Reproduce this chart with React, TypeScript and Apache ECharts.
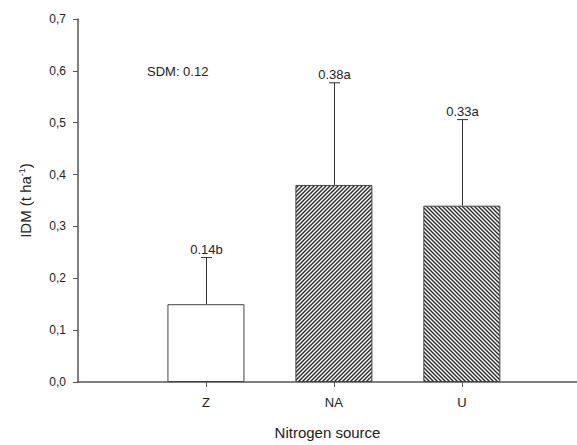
import React, { useEffect, useRef } from "react";
import * as echarts from "echarts";

const categories = ["Z", "NA", "U"];
const positions = [1, 2, 3];
const means = [0.15, 0.38, 0.34];
const upperErr = [0.24, 0.577, 0.506];
const barLabels = ["0.14b", "0.38a", "0.33a"];
const yTicks = [0, 0.1, 0.2, 0.3, 0.4, 0.5, 0.6, 0.7];
const note = "SDM: 0.12";

const FONT = "'Liberation Sans', Arial, sans-serif";
const AXIS = "#555";
const TXT = "#222";

function makeHatch(forward: boolean): HTMLCanvasElement {
  const s = 4;
  const c = document.createElement("canvas");
  c.width = s;
  c.height = s;
  const ctx = c.getContext("2d")!;
  ctx.fillStyle = "#ffffff";
  ctx.fillRect(0, 0, s, s);
  ctx.strokeStyle = "#2a2a2a";
  ctx.lineWidth = 1.4;
  for (let k = -1; k <= 1; k++) {
    ctx.beginPath();
    if (forward) {
      ctx.moveTo(k * s - 1, s + 1);
      ctx.lineTo(k * s + s + 1, -1);
    } else {
      ctx.moveTo(k * s - 1, -1);
      ctx.lineTo(k * s + s + 1, s + 1);
    }
    ctx.stroke();
  }
  return c;
}

export default function App() {
  const ref = useRef<HTMLDivElement>(null);
  useEffect(() => {
    if (!ref.current) return;
    const chart = echarts.init(ref.current, null, { renderer: "svg" });
    const fills = [
      { color: "#fff", borderColor: "#444", borderWidth: 1 },
      { color: { image: makeHatch(true), repeat: "repeat" }, borderColor: "#444", borderWidth: 1 },
      { color: { image: makeHatch(false), repeat: "repeat" }, borderColor: "#444", borderWidth: 1 },
    ];
    chart.setOption({
      animation: false,
      textStyle: { fontFamily: FONT },
      grid: { left: 78, right: 0, top: 19, bottom: 59 },
      xAxis: {
        type: "value",
        min: 0,
        max: 3.9,
        interval: 1,
        name: "Nitrogen source",
        nameLocation: "middle",
        nameGap: 43,
        nameTextStyle: { fontSize: 15, color: TXT, fontFamily: FONT },
        axisLine: { lineStyle: { color: AXIS, width: 1.5 } },
        axisTick: { show: true, length: 5, customValues: positions, lineStyle: { color: AXIS } },
        axisLabel: {
          customValues: positions,
          formatter: (v: number) => categories[Math.round(v) - 1] ?? "",
          fontSize: 13,
          color: TXT,
          margin: 14,
          fontFamily: FONT,
        },
        splitLine: { show: false },
      },
      yAxis: {
        type: "value",
        min: 0,
        max: 0.7,
        interval: 0.1,
        name: "{a|IDM (t ha}{s|-1}{a|)}",
        nameLocation: "middle",
        nameRotate: 90,
        nameGap: 45,
        nameTextStyle: {
          rich: {
            a: { fontSize: 15, color: TXT, fontFamily: FONT },
            s: { fontSize: 9, color: TXT, fontFamily: FONT, verticalAlign: "top", padding: [0, 0, 7, 0] },
          },
        },
        axisLine: { show: true, lineStyle: { color: AXIS, width: 1.5 } },
        axisTick: { show: true, length: 5, lineStyle: { color: AXIS } },
        axisLabel: {
          formatter: (v: number) => v.toFixed(1).replace(".", ","),
          fontSize: 12,
          color: TXT,
          margin: 12,
          fontFamily: FONT,
          customValues: yTicks,
        },
        splitLine: { show: false },
      },
      graphic: [
        {
          type: "text",
          left: 147,
          top: 65,
          style: { text: note, fontSize: 13, fill: TXT, fontFamily: FONT },
        },
      ],
      series: [
        {
          type: "bar",
          barWidth: 77,
          data: positions.map((p, i) => ({ value: [p, means[i]], itemStyle: fills[i] })),
        },
        {
          type: "custom",
          data: positions.map((p, i) => [p, means[i], upperErr[i]]),
          renderItem: (params: any, api: any) => {
            const x = api.value(0);
            const top = api.coord([x, api.value(1)]);
            const up = api.coord([x, api.value(2)]);
            const cx = Math.round(top[0]) + 0.5;
            return {
              type: "group",
              children: [
                { type: "line", shape: { x1: cx, y1: top[1], x2: cx, y2: up[1] }, style: { stroke: "#333", lineWidth: 1 } },
                { type: "line", shape: { x1: cx - 5.5, y1: up[1], x2: cx + 5.5, y2: up[1] }, style: { stroke: "#333", lineWidth: 1 } },
                {
                  type: "text",
                  x: cx,
                  y: up[1] - 1.5,
                  style: {
                    text: barLabels[params.dataIndex],
                    fontSize: 13,
                    fill: TXT,
                    fontFamily: FONT,
                    align: "center",
                    verticalAlign: "bottom",
                  },
                },
              ],
            };
          },
        },
      ],
    });
    return () => chart.dispose();
  }, []);
  return (
    <div
      ref={ref}
      style={{ position: "fixed", left: 0, top: 0, width: 577, height: 445, background: "#fff" }}
    />
  );
}
